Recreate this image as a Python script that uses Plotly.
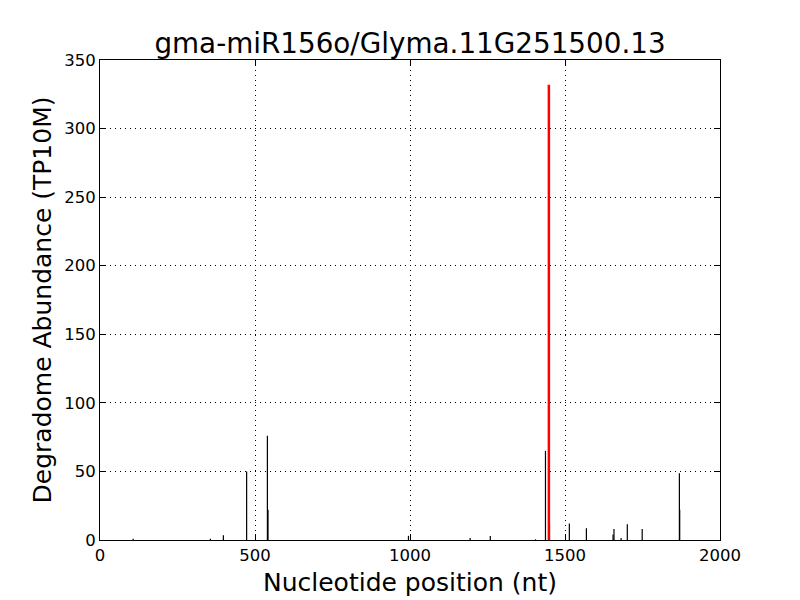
import plotly.graph_objects as go

title_text = "gma-miR156o/Glyma.11G251500.13"
positions = [107, 356, 398, 473, 540, 542, 995, 1194, 1259, 1405, 1437, 1450, 1514, 1569, 1655, 1658, 1681, 1701, 1749, 1869, 1870]
abundance = [1, 1, 3.4, 50, 76, 22, 3, 1.5, 3, 0.5, 65, 12, 12, 8.5, 4, 8, 1.5, 11.4, 8, 48.6, 22]
target_pos = [1448]
target_abund = [332]
x_ticks = [0, 500, 1000, 1500, 2000]
y_ticks = [0, 50, 100, 150, 200, 250, 300, 350]

def seg(xs, ys):
    X, Y = [], []
    for x, y in zip(xs, ys):
        X += [x, x, None]
        Y += [0, y, None]
    return X, Y

fig = go.Figure()
bx, by = seg(positions, abundance)
fig.add_trace(go.Scatter(x=bx, y=by, mode="lines", line=dict(color="black", width=1.2), hoverinfo="skip"))
rx, ry = seg(target_pos, target_abund)
fig.add_trace(go.Scatter(x=rx, y=ry, mode="lines", line=dict(color="red", width=2.5), hoverinfo="skip"))

font = "DejaVu Sans"
axis_common = dict(showline=True, linecolor="black", linewidth=1, mirror="allticks",
                   ticks="inside", ticklen=6, tickcolor="black", showgrid=True,
                   gridcolor="black", griddash="1px,4px", gridwidth=1, zeroline=False,
                   automargin=False,
                   tickfont=dict(family=font, size=16.5, color="black"))
fig.update_layout(
    width=800, height=600, showlegend=False,
    paper_bgcolor="white", plot_bgcolor="white",
    margin=dict(l=100, r=80, t=60, b=60),
    title=dict(text=title_text, x=0.5125, xanchor="center", y=0.912, yanchor="bottom",
               font=dict(family=font, size=27.8, color="black")),
    xaxis=dict(range=[0, 2000], tickvals=x_ticks,
               title=dict(text="Nucleotide position (nt)", font=dict(family=font, size=25, color="black"), standoff=9),
               **axis_common),
    yaxis=dict(range=[0, 350], tickvals=y_ticks,
               title=dict(text="Degradome Abundance (TP10M)", font=dict(family=font, size=25, color="black"), standoff=5),
               **axis_common),
)
fig.write_html("out.html", config={"displayModeBar": False},
               post_script="document.body.style.margin='0';")
